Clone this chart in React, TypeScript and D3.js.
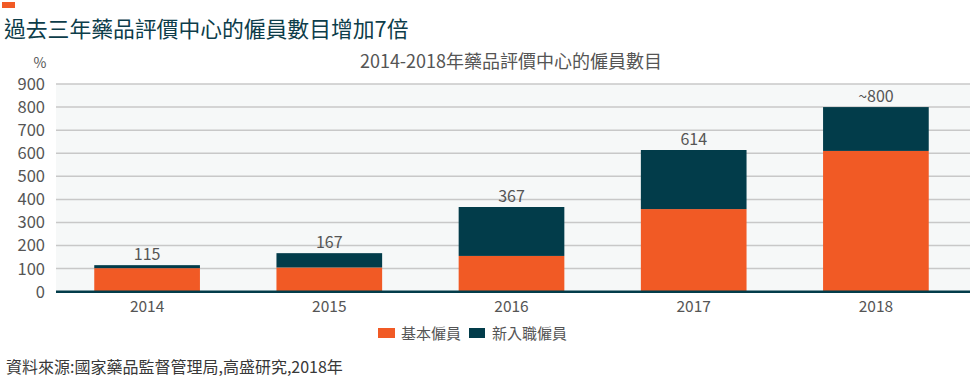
import React from "react";
import * as d3 from "d3";

const years = ["2014", "2015", "2016", "2017", "2018"];
const baseStaff = [102, 105, 155, 358, 610];
const newStaff = [13, 62, 212, 256, 190];
const totalLabels = ["115", "167", "367", "614", "~800"];
const yTicks = [0, 100, 200, 300, 400, 500, 600, 700, 800, 900];
const seriesNames = ["基本僱員", "新入職僱員"];

const ORANGE = "#f15a25";
const TEAL = "#023c4a";
const CJK = "'Noto Sans CJK TC', 'Noto Sans', sans-serif";

export default function App() {
  const width = 973;
  const height = 387;

  const x = d3.scaleBand<string>().domain(years).range([56, 967]).paddingInner(0.42).paddingOuter(0.21);
  const y = d3.scaleLinear().domain([0, 900]).range([291.7, 84]);

  const rows = years.map((yr, i) => ({ year: yr, base: baseStaff[i], add: newStaff[i] }));
  const stack = d3.stack<any>().keys(["base", "add"])(rows);
  const colors = [ORANGE, TEAL];

  return (
    <svg width={width} height={height} style={{ position: "absolute", left: 0, top: 0 }}>
      <rect x={0} y={0} width={width} height={height} fill="#fff" />
      {/* little accent mark */}
      <rect x={2} y={2} width={13} height={6} fill={ORANGE} />
      <text x={4} y={37} fontSize={21.8} fill="#0d3d4a" fontFamily={CJK}>
        過去三年藥品評價中心的僱員數目增加7倍
      </text>
      <text x={511} y={68} fontSize={18} fill="#555" textAnchor="middle" fontFamily={CJK}>
        2014-2018年藥品評價中心的僱員數目
      </text>

      {/* plot background */}
      <rect x={56} y={84} width={914} height={207.7} fill="#f6f8f8" />
      <text x={40} y={68} fontSize={14} fill="#555" textAnchor="middle" fontFamily={CJK}>%</text>

      {yTicks.map((t) => (
        <g key={t}>
          {t > 0 && <line x1={56} x2={970} y1={y(t)} y2={y(t)} stroke="#c8c8c8" strokeWidth={1.5} />}
          <text x={45} y={y(t)} dy="0.36em" fontSize={16.5} fill="#555" textAnchor="end" fontFamily={CJK}>
            {t}
          </text>
        </g>
      ))}

      {stack.map((s, si) =>
        s.map((d: any, i: number) => (
          <rect
            key={si + "-" + i}
            x={x(years[i])}
            y={y(d[1])}
            width={x.bandwidth()}
            height={y(d[0]) - y(d[1])}
            fill={colors[si]}
          />
        ))
      )}

      <line x1={56} x2={970} y1={291.7} y2={291.7} stroke={TEAL} strokeWidth={2.5} />

      {years.map((yr, i) => (
        <g key={yr}>
          <text
            x={(x(yr) as number) + x.bandwidth() / 2}
            y={y(baseStaff[i] + newStaff[i]) - 5}
            fontSize={16}
            fill="#555"
            textAnchor="middle"
            fontFamily={CJK}
          >
            {totalLabels[i]}
          </text>
          <text
            x={(x(yr) as number) + x.bandwidth() / 2}
            y={311.5}
            fontSize={15.5}
            fill="#555"
            textAnchor="middle"
            fontFamily={CJK}
          >
            {yr}
          </text>
        </g>
      ))}

      {/* legend */}
      <rect x={378} y={328} width={17} height={10} fill={ORANGE} />
      <text x={401} y={339} fontSize={15} fill="#555" fontFamily={CJK}>{seriesNames[0]}</text>
      <rect x={469} y={328} width={16} height={10} fill={TEAL} />
      <text x={492} y={339} fontSize={15} fill="#555" fontFamily={CJK}>{seriesNames[1]}</text>

      <text x={6} y={373} fontSize={16} fill="#383838" fontFamily={CJK}>
        資料來源:國家藥品監督管理局,高盛研究,2018年
      </text>
    </svg>
  );
}
